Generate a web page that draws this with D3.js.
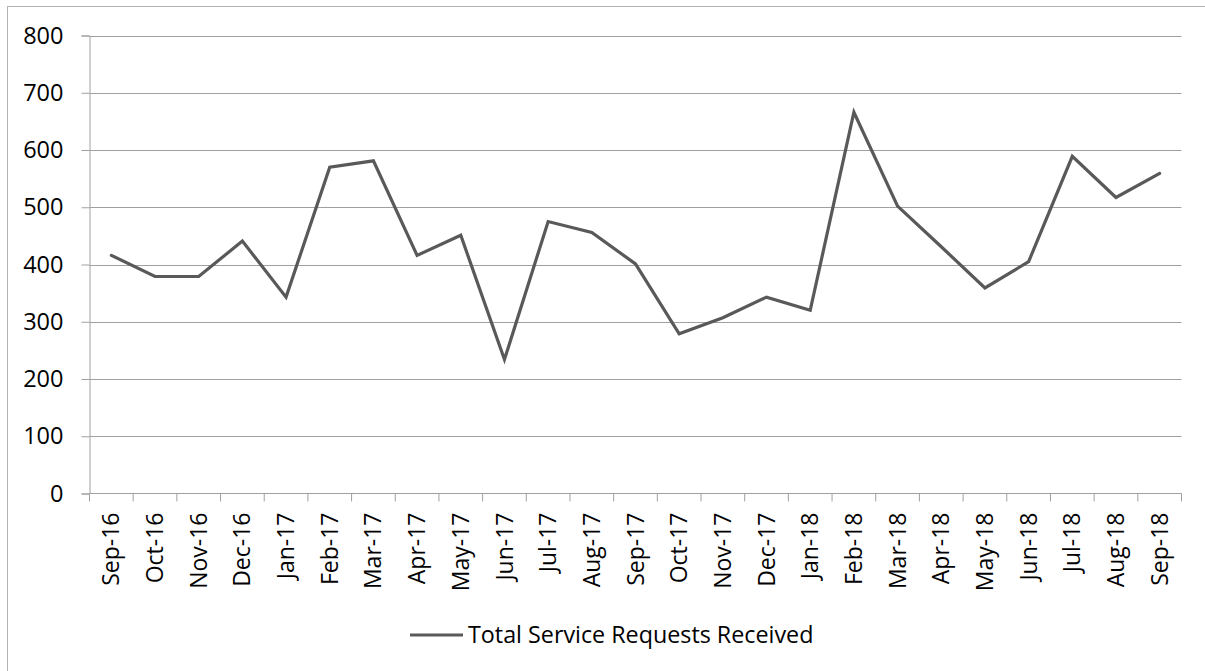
<!DOCTYPE html>
<html>
<head>
<meta charset="utf-8">
<script src="https://cdn.jsdelivr.net/npm/d3@7/dist/d3.min.js"></script>
<style>
  html, body { margin: 0; padding: 0; background: #fff; }
  svg { display: block; font-family: "Open Sans", "Noto Sans", sans-serif; }
</style>
</head>
<body>
<svg id="chart" width="1205" height="671"></svg>
<script>
// Monthly totals of service requests received
const months = ["Sep-16","Oct-16","Nov-16","Dec-16","Jan-17","Feb-17","Mar-17","Apr-17","May-17","Jun-17","Jul-17","Aug-17","Sep-17","Oct-17","Nov-17","Dec-17","Jan-18","Feb-18","Mar-18","Apr-18","May-18","Jun-18","Jul-18","Aug-18","Sep-18"];
const requests = [416, 379, 379, 441, 343, 570, 581, 416, 451, 234, 475, 456, 401, 279, 307, 343, 320, 666, 502, 431, 359, 405, 589, 517, 559];
const yTicks = [0, 100, 200, 300, 400, 500, 600, 700, 800];
const seriesName = "Total Service Requests Received";

const svg = d3.select("#chart");
const W = 1205, H = 671;
const plot = { left: 89.5, right: 1181.5, top: 35.5, bottom: 493.5 };

// outer chart border (right and bottom edges fall outside the canvas)
svg.append("rect")
  .attr("x", 7.5).attr("y", 6.5)
  .attr("width", W + 20).attr("height", H + 20)
  .attr("fill", "#fff").attr("stroke", "#b3b3b3").attr("stroke-width", 1);

const x = d3.scaleBand().domain(months).range([plot.left, plot.right]).padding(0);
const y = d3.scaleLinear().domain([0, 800]).range([plot.bottom, plot.top]);

// horizontal gridlines
svg.append("g")
  .selectAll("line").data(yTicks.filter(d => d > 0)).join("line")
  .attr("x1", plot.left).attr("x2", plot.right)
  .attr("y1", d => Math.round(y(d)) + 0.5).attr("y2", d => Math.round(y(d)) + 0.5)
  .attr("stroke", "#a0a0a0").attr("stroke-width", 1);

// y axis
const yAxis = svg.append("g")
  .attr("transform", `translate(${plot.left},0)`)
  .call(d3.axisLeft(y).tickValues(yTicks).tickSize(8).tickPadding(18).tickFormat(d3.format("d")));
yAxis.select(".domain").attr("stroke", "#a0a0a0");
yAxis.selectAll(".tick line").attr("stroke", "#a0a0a0");
yAxis.selectAll(".tick text")
  .attr("font-size", 23.5).attr("fill", "#000")
  .attr("font-family", "'Open Sans', sans-serif");

// x axis with boundary tick marks between months
const xAxisG = svg.append("g").attr("transform", `translate(0,${plot.bottom})`);
xAxisG.append("line")
  .attr("x1", plot.left).attr("x2", plot.right)
  .attr("stroke", "#a0a0a0");
const bounds = months.map(m => x(m)).concat([x(months[months.length - 1]) + x.bandwidth()]);
xAxisG.selectAll("line.tk").data(bounds).join("line")
  .attr("class", "tk")
  .attr("x1", d => d).attr("x2", d => d)
  .attr("y1", 0).attr("y2", 8)
  .attr("stroke", "#a0a0a0");
xAxisG.selectAll("text").data(months).join("text")
  .attr("transform", d => `translate(${x(d) + x.bandwidth() / 2},19) rotate(-90)`)
  .attr("text-anchor", "end")
  .attr("dy", "0.35em")
  .attr("font-size", 23)
  .attr("fill", "#000")
  .text(d => d);

// data line
const line = d3.line()
  .x((d, i) => x(months[i]) + x.bandwidth() / 2)
  .y(d => y(d));
svg.append("path")
  .datum(requests)
  .attr("d", line)
  .attr("fill", "none")
  .attr("stroke", "#595959")
  .attr("stroke-width", 3.2)
  .attr("stroke-linejoin", "miter")
  .attr("stroke-linecap", "round");

// legend
const lg = svg.append("g");
lg.append("line")
  .attr("x1", 410).attr("x2", 463)
  .attr("y1", 635).attr("y2", 635)
  .attr("stroke", "#595959").attr("stroke-width", 3.2);
lg.append("text")
  .attr("x", 468).attr("y", 643)
  .attr("font-size", 23.3)
  .attr("fill", "#000")
  .text(seriesName);
</script>
</body>
</html>
